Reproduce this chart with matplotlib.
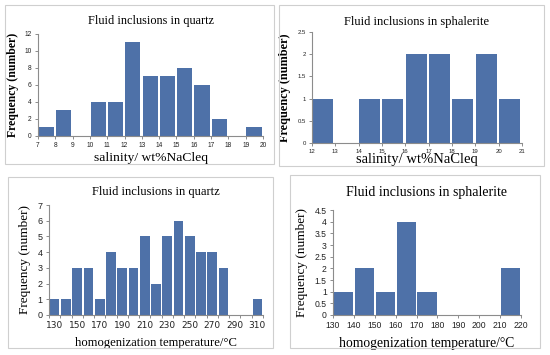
import matplotlib
matplotlib.use("Agg")
import matplotlib.pyplot as plt
import numpy as np
from matplotlib.patches import Rectangle

# ---- data ----
sal_q_edges = list(range(7, 21))
sal_q_counts = [1, 3, 0, 4, 4, 11, 7, 7, 8, 6, 2, 0, 1]

sal_s_edges = list(range(12, 22))
sal_s_counts = [1, 0, 1, 1, 2, 2, 1, 2, 1]

th_q_bins = [130, 140, 150, 160, 170, 180, 190, 200, 210, 220, 230, 240, 250, 260, 270, 280, 290, 300, 310]
th_q_counts = [1, 1, 3, 3, 1, 4, 3, 3, 5, 2, 5, 6, 5, 4, 4, 3, 0, 0, 1]

th_s_edges = [130, 140, 150, 160, 170, 180, 190, 200, 210, 220]
th_s_counts = [1, 2, 1, 4, 1, 0, 0, 0, 2]

title_q = "Fluid inclusions in quartz"
title_s = "Fluid inclusions in sphalerite"
ylab = "Frequency (number)"
xlab_sal = "salinity/ wt%NaCleq"
xlab_th = "homogenization temperature/\u00b0C"

BAR = "#4E71A8"
SPINE = "#8c8c8c"
W, H = 550, 355

fig = plt.figure(figsize=(W / 100, H / 100), dpi=100)
fig.patch.set_facecolor("white")

SERIF = ["Liberation Serif", "DejaVu Serif"]
SANS = ["Liberation Sans", "DejaVu Sans"]


def box(x0, y0, x1, y1):
    r = Rectangle((x0 / W, 1 - y1 / H), (x1 - x0) / W, (y1 - y0) / H,
                  transform=fig.transFigure, fill=False, edgecolor="#cfcfcf", lw=0.8)
    fig.add_artist(r)


def axes_px(x0, y0, x1, y1):
    return fig.add_axes([x0 / W, 1 - y1 / H, (x1 - x0) / W, (y1 - y0) / H])


def style(ax, tick_fs):
    for s in ["top", "right"]:
        ax.spines[s].set_visible(False)
    for s in ["left", "bottom"]:
        ax.spines[s].set_color(SPINE)
        ax.spines[s].set_linewidth(0.8)
    ax.tick_params(axis="both", which="both", direction="out", length=2.5, width=0.7,
                   color=SPINE, labelsize=tick_fs, pad=2, labelcolor="#222222")
    for lab in ax.get_xticklabels() + ax.get_yticklabels():
        lab.set_family(SANS)


# ---------- Panel 1 ----------
box(5, 5, 274, 164)
ax1 = axes_px(38, 34, 263, 136)
e = np.array(sal_q_edges[:-1])
ax1.bar(e + 0.04, sal_q_counts, width=0.88, align="edge", color=BAR, linewidth=0)
ax1.set_xlim(7, 20)
ax1.set_ylim(0, 12)
ax1.set_xticks(sal_q_edges)
ax1.set_yticks([0, 2, 4, 6, 8, 10, 12])
style(ax1, 4.8)
ax1.set_title(title_q, family=SERIF, fontsize=8.8, pad=7)
ax1.set_ylabel(ylab, family=SERIF, fontsize=8.5, fontweight="bold", labelpad=4)
ax1.set_xlabel(xlab_sal, family=SERIF, fontsize=9.7, labelpad=2)

# ---------- Panel 2 ----------
box(279, 5, 544, 166)
ax2 = axes_px(312, 32, 522, 143)
e = np.array(sal_s_edges[:-1])
ax2.bar(e + 0.02, sal_s_counts, width=0.9, align="edge", color=BAR, linewidth=0)
ax2.set_xlim(12, 21)
ax2.set_ylim(0, 2.5)
ax2.set_xticks(sal_s_edges)
ax2.set_yticks([0, 0.5, 1, 1.5, 2, 2.5])
ax2.set_yticklabels(["0", "0.5", "1", "1.5", "2", "2.5"])
style(ax2, 4.3)
ax2.set_title(title_s, family=SERIF, fontsize=9, pad=5)
ax2.set_ylabel(ylab, family=SERIF, fontsize=8.8, fontweight="bold", labelpad=5)
ax2.set_xlabel(xlab_sal, family=SERIF, fontsize=10.5, labelpad=-1)

# ---------- Panel 3 ----------
box(8, 177, 273, 348)
ax3 = axes_px(49, 205, 263, 315)
x = np.arange(len(th_q_bins))
ax3.bar(x, th_q_counts, width=0.86, color=BAR, linewidth=0)
ax3.set_xlim(-0.5, len(th_q_bins) - 0.5)
ax3.set_ylim(0, 7)
ax3.set_xticks(np.arange(-0.5, len(th_q_bins), 1.0))
ax3.set_xticklabels([])
ax3.set_xticks(x[::2], minor=True)
ax3.set_xticklabels([str(v) for v in th_q_bins[::2]], minor=True)
ax3.set_yticks(range(0, 8))
style(ax3, 6.5)
ax3.tick_params(axis="x", which="minor", length=0, pad=4.5)
ax3.set_title(title_q, family=SERIF, fontsize=9, pad=7)
ax3.set_ylabel(ylab, family=SERIF, fontsize=9.5, labelpad=5)
ax3.set_xlabel(xlab_th, family=SERIF, fontsize=9.1, labelpad=5)

# ---------- Panel 4 ----------
box(290, 175, 540, 348)
ax4 = axes_px(333, 210, 521, 315)
e = np.array(th_s_edges[:-1])
ax4.bar(e + 0.4, th_s_counts, width=9.2, align="edge", color=BAR, linewidth=0)
ax4.set_xlim(130, 220)
ax4.set_ylim(0, 4.5)
ax4.set_xticks(th_s_edges)
yt = [0, 0.5, 1, 1.5, 2, 2.5, 3, 3.5, 4, 4.5]
ax4.set_yticks(yt)
ax4.set_yticklabels([("%g" % v) for v in yt])
style(ax4, 6.2)
ax4.set_title(title_s, family=SERIF, fontsize=10, pad=10)
ax4.set_ylabel(ylab, family=SERIF, fontsize=9.5, labelpad=5)
ax4.set_xlabel(xlab_th, family=SERIF, fontsize=9.8, labelpad=5)

fig.savefig("out.png", dpi=100, facecolor="white")
